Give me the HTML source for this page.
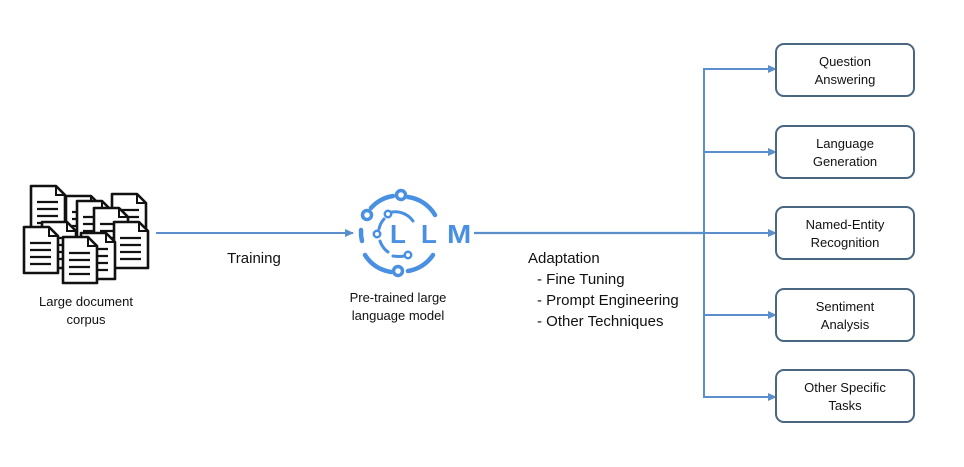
<!DOCTYPE html>
<html><head><meta charset="utf-8"><style>
html,body{margin:0;padding:0;background:#fff;}
svg{display:block;}
text{font-family:"Liberation Sans",sans-serif;fill:#111;}
</style></head><body>
<svg width="964" height="467" viewBox="0 0 964 467" xmlns="http://www.w3.org/2000/svg">
<defs>
<marker id="ah" markerWidth="9" markerHeight="9" refX="8" refY="4.5" orient="auto" markerUnits="userSpaceOnUse">
<path d="M0,0.5 L9,4.5 L0,8.5 Z" fill="#5b8fcc"/>
</marker>
<g id="doc">
<path d="M0,0 H25 L34,9 V46 H0 Z" fill="#fff" stroke="#111" stroke-width="2.6" stroke-linejoin="round"/>
<path d="M25,0 V9 H34" fill="none" stroke="#111" stroke-width="2"/>
<path d="M6,16 H27 M6,23 H27 M6,30 H27 M6,37 H27" stroke="#111" stroke-width="2.2"/>
</g>
</defs>

<!-- documents -->
<use href="#doc" x="31" y="186"/>
<use href="#doc" x="112" y="194"/>
<use href="#doc" x="66" y="196"/>
<use href="#doc" x="77" y="201"/>
<use href="#doc" x="94" y="208"/>
<use href="#doc" x="42" y="222"/>
<use href="#doc" x="114" y="222"/>
<use href="#doc" x="24" y="227"/>
<use href="#doc" x="81" y="233"/>
<use href="#doc" x="63" y="237"/>

<text x="86" y="306" font-size="13" text-anchor="middle">Large document</text>
<text x="86" y="324" font-size="13" text-anchor="middle">corpus</text>

<!-- training arrow -->
<line x1="156" y1="233" x2="353" y2="233" stroke="#5b8fcc" stroke-width="2" marker-end="url(#ah)"/>
<text x="254" y="263" font-size="15" text-anchor="middle">Training</text>

<!-- LLM logo -->
<g fill="none" stroke="#4a90e2" stroke-width="4.5" stroke-linecap="round">
<path d="M371,208 A37,37 0 0 1 393,196"/>
<path d="M408,197 A37,37 0 0 1 435,215"/>
<path d="M361,230 A37,37 0 0 0 362,241"/>
<path d="M365,255 A37,37 0 0 0 391,272"/>
<path d="M408,271 A37,37 0 0 0 433,255"/>
<path d="M392,212 A22,22 0 0 1 413,221" stroke-width="3"/>
<path d="M380,241 A22,22 0 0 0 388,252" stroke-width="3"/>
<path d="M379,229 A22,22 0 0 1 384,219" stroke-width="3"/>
<path d="M393,256 Q400,257 404,256" stroke-width="3"/>
</g>
<g fill="#fff" stroke="#4a90e2" stroke-width="3.5">
<circle cx="401" cy="195" r="4.5"/>
<circle cx="367" cy="215" r="4.5"/>
<circle cx="398" cy="271" r="4.5"/>
<circle cx="388" cy="214" r="3.2" stroke-width="2.5"/>
<circle cx="377" cy="234" r="3.2" stroke-width="2.5"/>
<circle cx="408" cy="255" r="3.2" stroke-width="2.5"/>
</g>
<g font-size="26" font-weight="bold" style="fill:#4a90e2">
<text x="390" y="243" style="fill:#4a90e2">L</text>
<text x="421" y="243" style="fill:#4a90e2">L</text>
<text transform="translate(447,243) scale(1.12,1)" x="0" y="0" style="fill:#4a90e2">M</text>
</g>

<text x="398" y="302" font-size="13" text-anchor="middle">Pre-trained large</text>
<text x="398" y="320" font-size="13" text-anchor="middle">language model</text>

<!-- adaptation line -->
<line x1="474" y1="233" x2="704" y2="233" stroke="#5b8fcc" stroke-width="2.2"/>
<line x1="704" y1="68" x2="704" y2="398" stroke="#5b8fcc" stroke-width="2"/>
<line x1="703" y1="69" x2="776" y2="69" stroke="#5b8fcc" stroke-width="2" marker-end="url(#ah)"/>
<line x1="703" y1="152" x2="776" y2="152" stroke="#5b8fcc" stroke-width="2" marker-end="url(#ah)"/>
<line x1="703" y1="233" x2="776" y2="233" stroke="#5b8fcc" stroke-width="2" marker-end="url(#ah)"/>
<line x1="703" y1="315" x2="776" y2="315" stroke="#5b8fcc" stroke-width="2" marker-end="url(#ah)"/>
<line x1="703" y1="397" x2="776" y2="397" stroke="#5b8fcc" stroke-width="2" marker-end="url(#ah)"/>

<text x="528" y="263" font-size="15">Adaptation</text>
<text x="537" y="284" font-size="15">- Fine Tuning</text>
<text x="537" y="305" font-size="15">- Prompt Engineering</text>
<text x="537" y="326" font-size="15">- Other Techniques</text>

<!-- boxes -->
<g fill="#fff" stroke="#4a6782" stroke-width="2">
<rect x="776" y="44" width="138" height="52" rx="8"/>
<rect x="776" y="126" width="138" height="52" rx="8"/>
<rect x="776" y="207" width="138" height="52" rx="8"/>
<rect x="776" y="289" width="138" height="52" rx="8"/>
<rect x="776" y="370" width="138" height="52" rx="8"/>
</g>
<g font-size="13" text-anchor="middle">
<text x="845" y="66">Question</text>
<text x="845" y="84">Answering</text>
<text x="845" y="148">Language</text>
<text x="845" y="166">Generation</text>
<text x="845" y="229">Named-Entity</text>
<text x="845" y="247">Recognition</text>
<text x="845" y="311">Sentiment</text>
<text x="845" y="329">Analysis</text>
<text x="845" y="392">Other Specific</text>
<text x="845" y="410">Tasks</text>
</g>
</svg>
</body></html>
